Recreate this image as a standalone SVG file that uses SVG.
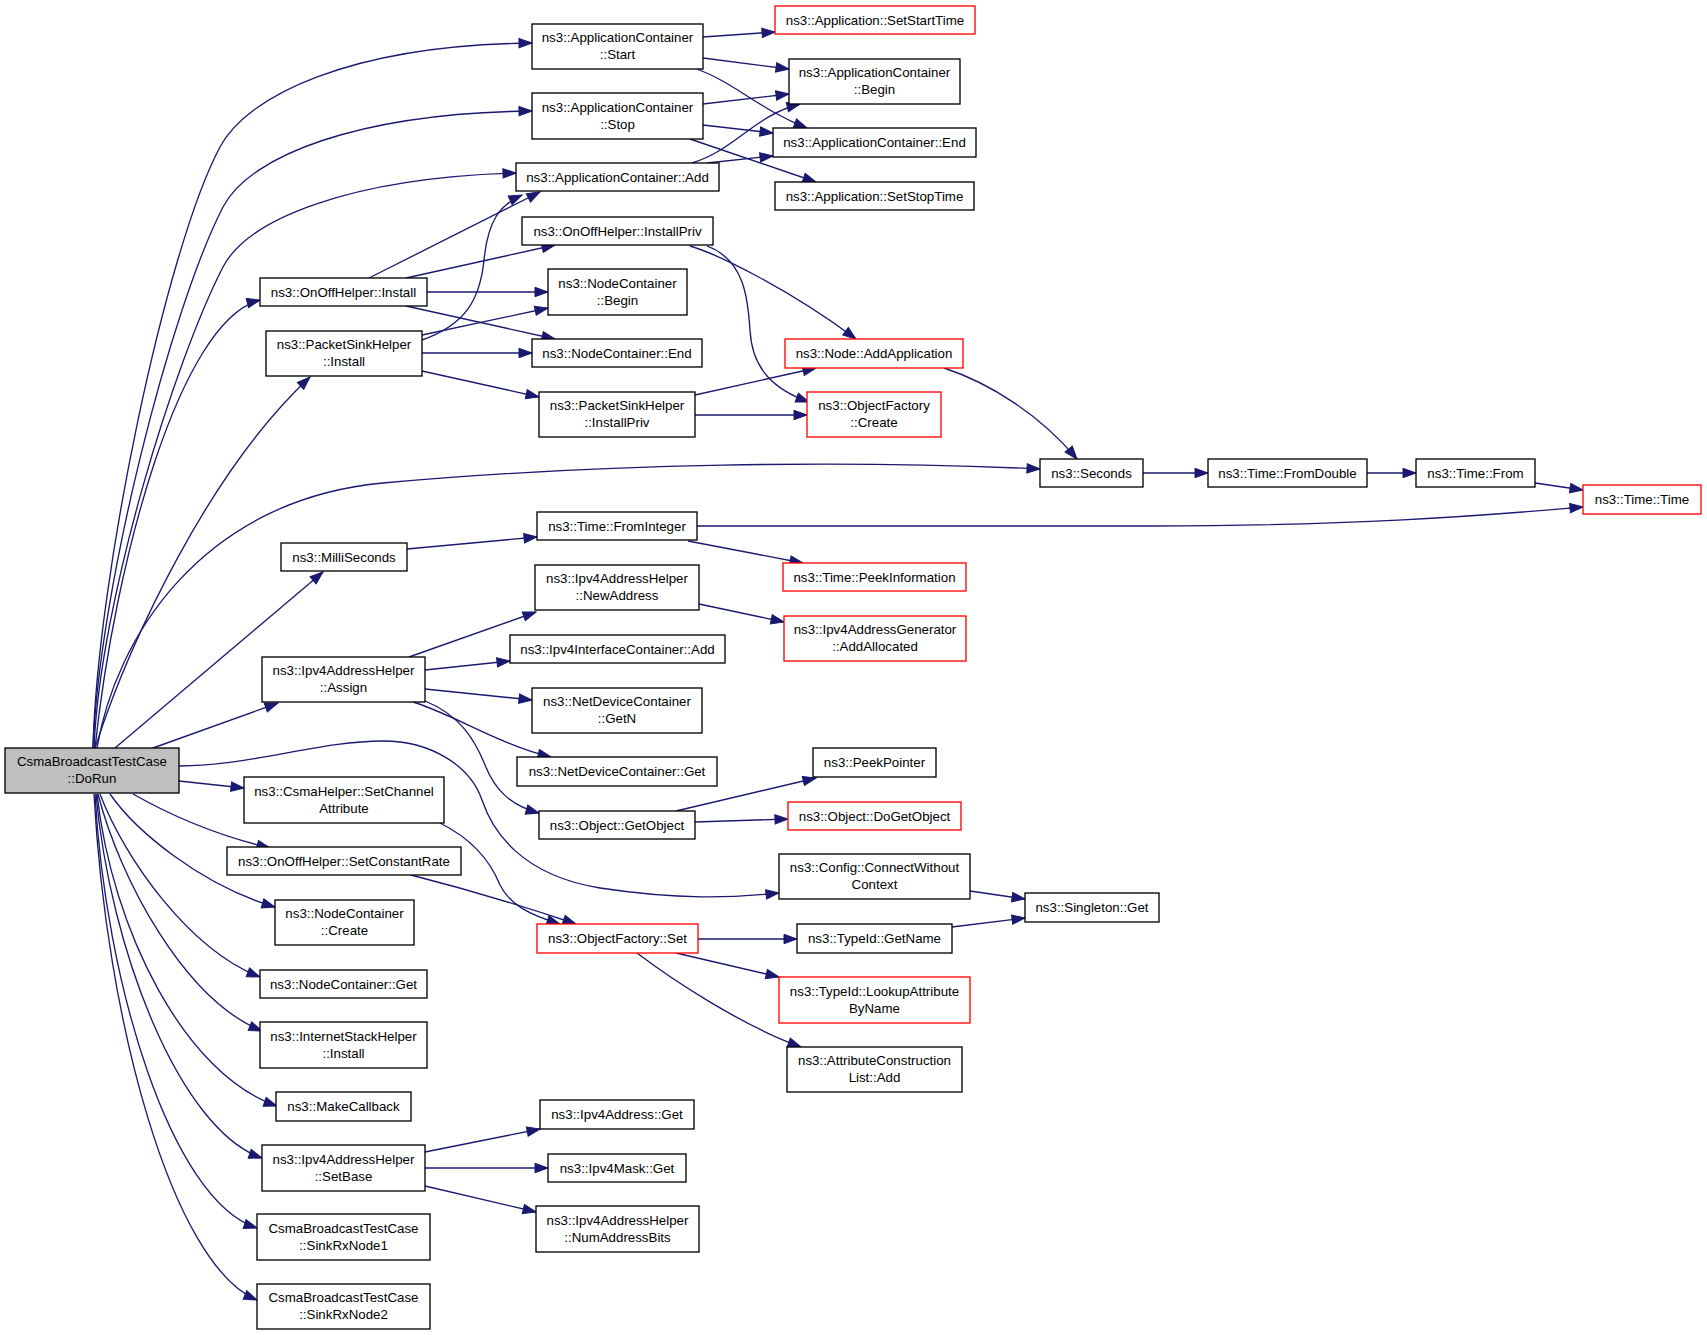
<svg xmlns="http://www.w3.org/2000/svg" width="1707" height="1335" viewBox="0 0 1707 1335">
<style>
.node rect{fill:#ffffff;stroke:#000000;stroke-width:1.33}
.node.red rect{stroke:#ff0000}
.node.main rect{fill:#bfbfbf}
.node text{font-family:"Liberation Sans",Arial,Helvetica,sans-serif;font-size:13.3px;fill:#000000;text-anchor:middle}
.edges path{fill:none;stroke:#191970;stroke-width:1.33;marker-end:url(#arr)}
</style>
<defs>
<marker id="arr" markerUnits="userSpaceOnUse" markerWidth="15" markerHeight="11" refX="13" refY="4.7" orient="auto" overflow="visible">
<path d="M0,0 L13,4.7 L0,9.4 z" fill="#191970" stroke="#191970" stroke-width="1"/>
</marker>
</defs>
<rect x="0" y="0" width="1707" height="1335" fill="#ffffff"/>
<g class="edges" id="edges">
<path d="M93,748 C97,580 165,250 220,147 C247,96 350,45 532,43"/>
<path d="M93,748 C99,590 170,310 223,207 C250,155 360,113 532,111"/>
<path d="M94,748 C100,600 175,360 223,267 C248,219 350,178 516,173"/>
<path d="M95,748 C115,560 180,320 260,300"/>
<path d="M95,748 C130,640 210,470 310,377"/>
<path d="M97,748 C115,640 200,500 383,483 C603,463 850,460 1040,469"/>
<path d="M115,748 L323,572"/>
<path d="M153,748 L278,703"/>
<path d="M179,766 C250,766 320,741 383,741 C430,741 470,765 482,800 C492,830 520,875 600,888 C680,900 730,898 779,893"/>
<path d="M179,781 L244,788"/>
<path d="M133,794 C170,815 215,835 270,848"/>
<path d="M110,794 C135,830 200,885 275,907"/>
<path d="M100,794 C125,860 190,950 260,977"/>
<path d="M98,794 C120,880 185,1000 262,1031"/>
<path d="M97,794 C112,930 185,1075 277,1106"/>
<path d="M96,794 C110,950 180,1130 262,1158"/>
<path d="M95,794 C105,980 170,1200 257,1228"/>
<path d="M94,794 C106,1020 172,1265 257,1300"/>
<path d="M703,37 L775,32"/>
<path d="M703,58 L789,69"/>
<path d="M697,69 C735,83 760,110 807,128"/>
<path d="M703,104 L789,94"/>
<path d="M703,125 L773,133"/>
<path d="M690,139 L816,182"/>
<path d="M692,163 C735,150 755,115 800,104"/>
<path d="M707,163 L773,156"/>
<path d="M369,278 L540,192"/>
<path d="M406,278 L555,245"/>
<path d="M427,292 L548,292"/>
<path d="M406,306 L555,339"/>
<path d="M422,340 C465,325 480,300 484,260 C488,220 500,205 522,195"/>
<path d="M422,335 L548,308"/>
<path d="M422,353 L532,353"/>
<path d="M422,371 L539,397"/>
<path d="M690,246 C720,255 790,290 856,339"/>
<path d="M707,246 C745,260 748,300 750,330 C752,370 775,390 809,402"/>
<path d="M695,395 L816,368"/>
<path d="M695,415 L807,415"/>
<path d="M944,368 C990,383 1040,415 1077,459"/>
<path d="M1143,473 L1208,473"/>
<path d="M1367,473 L1416,473"/>
<path d="M1535,483 L1583,490"/>
<path d="M407,549 L537,537"/>
<path d="M697,526 L1150,526 C1350,526 1480,516 1583,507"/>
<path d="M688,541 L803,563"/>
<path d="M409,657 L536,612"/>
<path d="M425,670 L510,661"/>
<path d="M425,689 L532,700"/>
<path d="M413,702 C455,715 500,745 551,757"/>
<path d="M425,701 C460,715 475,740 485,765 C495,790 510,805 539,813"/>
<path d="M699,604 L784,622"/>
<path d="M676,811 L816,778"/>
<path d="M695,822 L788,819"/>
<path d="M440,823 C470,838 490,860 500,885 C510,905 530,915 560,924"/>
<path d="M411,875 C470,890 520,905 576,924"/>
<path d="M970,891 L1025,899"/>
<path d="M698,939 L797,939"/>
<path d="M676,953 L779,977"/>
<path d="M637,953 C670,978 740,1025 801,1047"/>
<path d="M952,927 L1025,918"/>
<path d="M425,1152 L540,1129"/>
<path d="M425,1168 L548,1168"/>
<path d="M425,1186 L536,1212"/>
</g>
<g id="n0" class="node main"><rect x="5" y="748" width="174" height="45"/><text x="92" y="766">CsmaBroadcastTestCase</text><text x="92" y="783">::DoRun</text></g>
<g id="n1" class="node"><rect x="532" y="24" width="171" height="45"/><text x="617.5" y="42">ns3::ApplicationContainer</text><text x="617.5" y="59">::Start</text></g>
<g id="n2" class="node"><rect x="532" y="93" width="171" height="46"/><text x="617.5" y="111.5">ns3::ApplicationContainer</text><text x="617.5" y="128.5">::Stop</text></g>
<g id="n3" class="node"><rect x="516" y="163" width="203" height="28"/><text x="617.5" y="181.5">ns3::ApplicationContainer::Add</text></g>
<g id="n4" class="node"><rect x="260" y="278" width="167" height="28"/><text x="343.5" y="296.5">ns3::OnOffHelper::Install</text></g>
<g id="n5" class="node"><rect x="522" y="217" width="191" height="28"/><text x="617.5" y="235.5">ns3::OnOffHelper::InstallPriv</text></g>
<g id="n6" class="node"><rect x="548" y="269" width="139" height="46"/><text x="617.5" y="287.5">ns3::NodeContainer</text><text x="617.5" y="304.5">::Begin</text></g>
<g id="n7" class="node"><rect x="532" y="339" width="170" height="28"/><text x="617" y="357.5">ns3::NodeContainer::End</text></g>
<g id="n8" class="node"><rect x="266" y="331" width="156" height="45"/><text x="344" y="349">ns3::PacketSinkHelper</text><text x="344" y="366">::Install</text></g>
<g id="n9" class="node"><rect x="539" y="392" width="156" height="45"/><text x="617" y="410">ns3::PacketSinkHelper</text><text x="617" y="427">::InstallPriv</text></g>
<g id="n10" class="node red"><rect x="775" y="6" width="200" height="28"/><text x="875" y="24.5">ns3::Application::SetStartTime</text></g>
<g id="n11" class="node"><rect x="789" y="59" width="171" height="45"/><text x="874.5" y="77">ns3::ApplicationContainer</text><text x="874.5" y="94">::Begin</text></g>
<g id="n12" class="node"><rect x="773" y="128" width="203" height="29"/><text x="874.5" y="147">ns3::ApplicationContainer::End</text></g>
<g id="n13" class="node"><rect x="775" y="182" width="199" height="28"/><text x="874.5" y="200.5">ns3::Application::SetStopTime</text></g>
<g id="n14" class="node red"><rect x="785" y="339" width="178" height="29"/><text x="874" y="358">ns3::Node::AddApplication</text></g>
<g id="n15" class="node red"><rect x="807" y="392" width="134" height="45"/><text x="874" y="410">ns3::ObjectFactory</text><text x="874" y="427">::Create</text></g>
<g id="n16" class="node"><rect x="1040" y="459" width="103" height="28"/><text x="1091.5" y="477.5">ns3::Seconds</text></g>
<g id="n17" class="node"><rect x="1208" y="459" width="159" height="28"/><text x="1287.5" y="477.5">ns3::Time::FromDouble</text></g>
<g id="n18" class="node"><rect x="1416" y="459" width="119" height="28"/><text x="1475.5" y="477.5">ns3::Time::From</text></g>
<g id="n19" class="node red"><rect x="1583" y="485" width="118" height="29"/><text x="1642" y="504">ns3::Time::Time</text></g>
<g id="n20" class="node"><rect x="281" y="543" width="126" height="28"/><text x="344" y="561.5">ns3::MilliSeconds</text></g>
<g id="n21" class="node"><rect x="537" y="512" width="160" height="28"/><text x="617" y="530.5">ns3::Time::FromInteger</text></g>
<g id="n22" class="node red"><rect x="783" y="563" width="183" height="28"/><text x="874.5" y="581.5">ns3::Time::PeekInformation</text></g>
<g id="n23" class="node"><rect x="262" y="657" width="163" height="45"/><text x="343.5" y="675">ns3::Ipv4AddressHelper</text><text x="343.5" y="692">::Assign</text></g>
<g id="n24" class="node"><rect x="535" y="565" width="164" height="45"/><text x="617" y="583">ns3::Ipv4AddressHelper</text><text x="617" y="600">::NewAddress</text></g>
<g id="n25" class="node red"><rect x="784" y="616" width="182" height="45"/><text x="875" y="634">ns3::Ipv4AddressGenerator</text><text x="875" y="651">::AddAllocated</text></g>
<g id="n26" class="node"><rect x="510" y="635" width="215" height="28"/><text x="617.5" y="653.5">ns3::Ipv4InterfaceContainer::Add</text></g>
<g id="n27" class="node"><rect x="532" y="688" width="170" height="45"/><text x="617" y="706">ns3::NetDeviceContainer</text><text x="617" y="723">::GetN</text></g>
<g id="n28" class="node"><rect x="517" y="757" width="200" height="29"/><text x="617" y="776">ns3::NetDeviceContainer::Get</text></g>
<g id="n29" class="node"><rect x="539" y="811" width="156" height="28"/><text x="617" y="829.5">ns3::Object::GetObject</text></g>
<g id="n30" class="node"><rect x="813" y="748" width="123" height="29"/><text x="874.5" y="767">ns3::PeekPointer</text></g>
<g id="n31" class="node red"><rect x="788" y="802" width="173" height="28"/><text x="874.5" y="820.5">ns3::Object::DoGetObject</text></g>
<g id="n32" class="node"><rect x="244" y="777" width="200" height="46"/><text x="344" y="795.5">ns3::CsmaHelper::SetChannel</text><text x="344" y="812.5">Attribute</text></g>
<g id="n33" class="node"><rect x="227" y="847" width="234" height="28"/><text x="344" y="865.5">ns3::OnOffHelper::SetConstantRate</text></g>
<g id="n34" class="node"><rect x="779" y="854" width="191" height="45"/><text x="874.5" y="872">ns3::Config::ConnectWithout</text><text x="874.5" y="889">Context</text></g>
<g id="n35" class="node"><rect x="1025" y="893" width="134" height="29"/><text x="1092" y="912">ns3::Singleton::Get</text></g>
<g id="n36" class="node red"><rect x="537" y="924" width="161" height="29"/><text x="617.5" y="943">ns3::ObjectFactory::Set</text></g>
<g id="n37" class="node"><rect x="797" y="924" width="155" height="29"/><text x="874.5" y="943">ns3::TypeId::GetName</text></g>
<g id="n38" class="node red"><rect x="779" y="977" width="191" height="46"/><text x="874.5" y="995.5">ns3::TypeId::LookupAttribute</text><text x="874.5" y="1012.5">ByName</text></g>
<g id="n39" class="node"><rect x="787" y="1047" width="175" height="45"/><text x="874.5" y="1065">ns3::AttributeConstruction</text><text x="874.5" y="1082">List::Add</text></g>
<g id="n40" class="node"><rect x="275" y="900" width="139" height="45"/><text x="344.5" y="918">ns3::NodeContainer</text><text x="344.5" y="935">::Create</text></g>
<g id="n41" class="node"><rect x="260" y="970" width="167" height="28"/><text x="343.5" y="988.5">ns3::NodeContainer::Get</text></g>
<g id="n42" class="node"><rect x="260" y="1022" width="167" height="46"/><text x="343.5" y="1040.5">ns3::InternetStackHelper</text><text x="343.5" y="1057.5">::Install</text></g>
<g id="n43" class="node"><rect x="276" y="1092" width="135" height="29"/><text x="343.5" y="1111">ns3::MakeCallback</text></g>
<g id="n44" class="node"><rect x="262" y="1145" width="163" height="46"/><text x="343.5" y="1163.5">ns3::Ipv4AddressHelper</text><text x="343.5" y="1180.5">::SetBase</text></g>
<g id="n45" class="node"><rect x="257" y="1214" width="173" height="46"/><text x="343.5" y="1232.5">CsmaBroadcastTestCase</text><text x="343.5" y="1249.5">::SinkRxNode1</text></g>
<g id="n46" class="node"><rect x="257" y="1284" width="173" height="45"/><text x="343.5" y="1302">CsmaBroadcastTestCase</text><text x="343.5" y="1319">::SinkRxNode2</text></g>
<g id="n47" class="node"><rect x="540" y="1100" width="154" height="29"/><text x="617" y="1119">ns3::Ipv4Address::Get</text></g>
<g id="n48" class="node"><rect x="548" y="1154" width="138" height="28"/><text x="617" y="1172.5">ns3::Ipv4Mask::Get</text></g>
<g id="n49" class="node"><rect x="536" y="1206" width="163" height="46"/><text x="617.5" y="1224.5">ns3::Ipv4AddressHelper</text><text x="617.5" y="1241.5">::NumAddressBits</text></g>
</svg>
